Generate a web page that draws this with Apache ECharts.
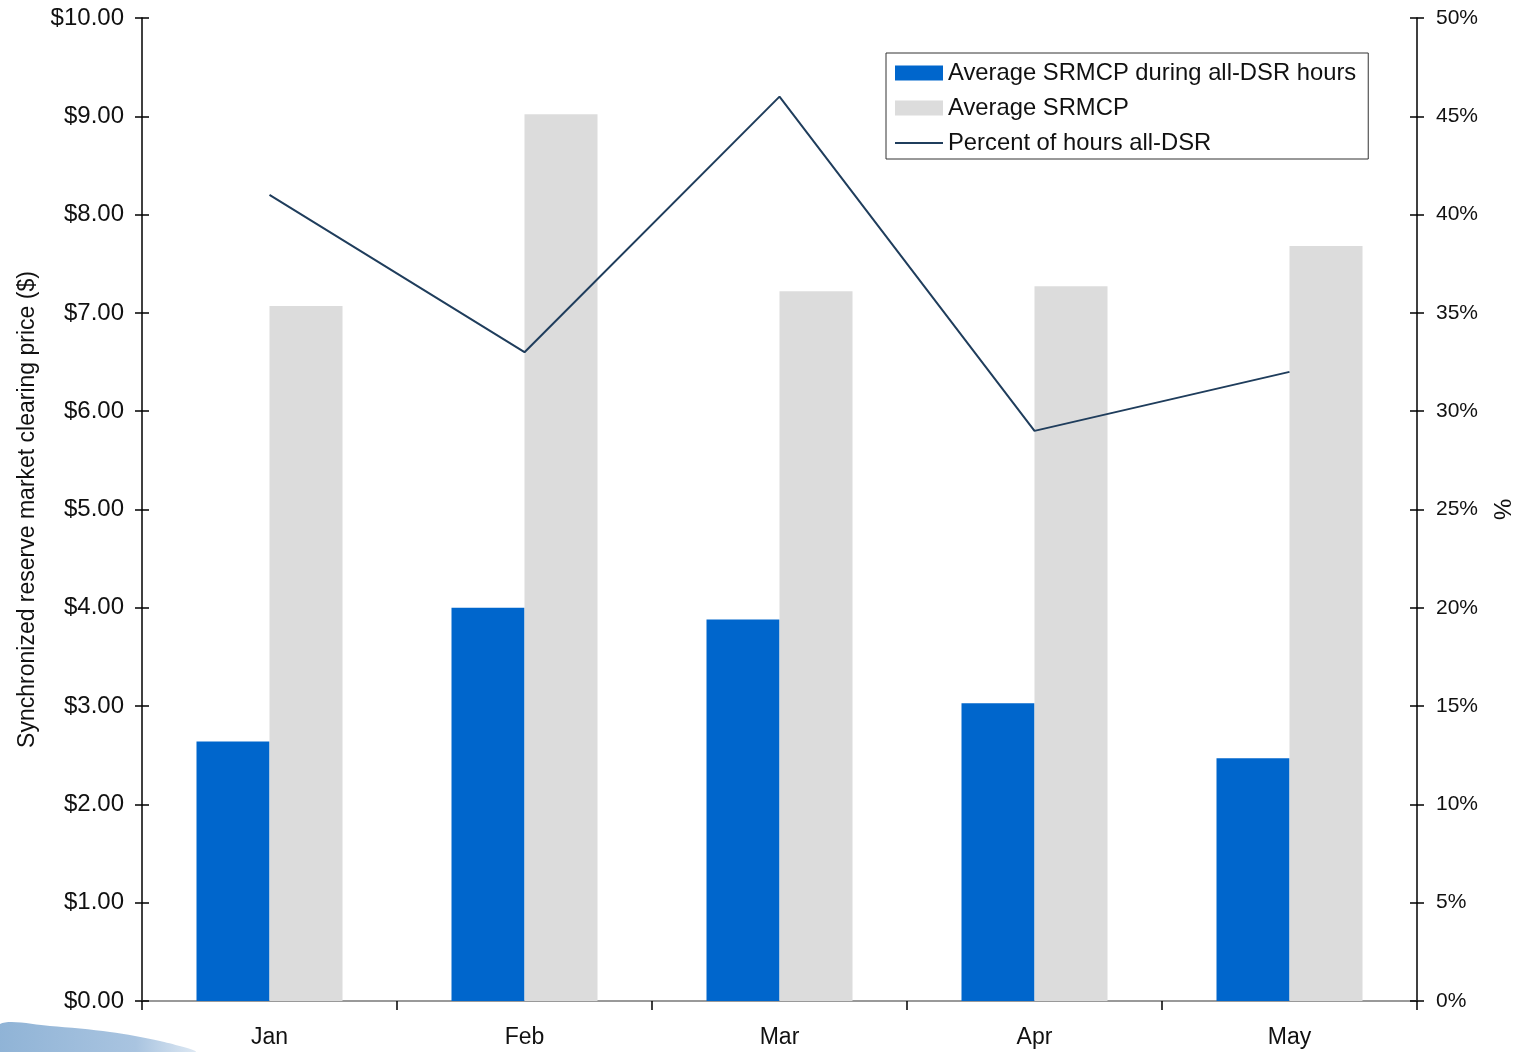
<!DOCTYPE html>
<html><head><meta charset="utf-8">
<script src="https://cdn.jsdelivr.net/npm/echarts@6/dist/echarts.min.js"></script>
<style>html,body{margin:0;padding:0;background:#fff}#c{width:1514px;height:1052px}</style>
</head><body><div id="c"></div>
<script>
const categories = ['Jan','Feb','Mar','Apr','May'];
const avgDsrHours = [2.64, 4.00, 3.88, 3.03, 2.47];
const avgSrmcp = [7.07, 9.02, 7.22, 7.27, 7.68];
const pctAllDsr = [41, 33, 46, 29, 32];

const chart = echarts.init(document.getElementById('c'));
const sans = 'Arial, "Liberation Sans", sans-serif';
chart.setOption({
  animation: false,
  backgroundColor: '#fff',
  grid: {left: 142, right: 97, top: 18, bottom: 51, outerBoundsMode: 'none', containLabel: false},
  legend: {
    orient: 'vertical', left: 886, top: 53,
    padding: [8, 12, 4, 8],
    borderColor: '#333', borderWidth: 1,
    itemWidth: 48, itemHeight: 15, itemGap: 11,
    textStyle: {fontFamily: sans, fontSize: 23.8, color: '#111'},
    data: [
      {name: 'Average SRMCP during all-DSR hours', icon: 'rect'},
      {name: 'Average SRMCP', icon: 'rect'},
      {name: 'Percent of hours all-DSR', itemStyle: {opacity: 0}}
    ]
  },
  graphic: [{
    type: 'polygon', silent: true, z: -1,
    shape: {points: [[0,1024],[50,1026],[110,1032],[160,1041],[195,1052],[0,1052]], smooth: 0.3},
    style: {fill: new echarts.graphic.LinearGradient(0,0,1,0,[{offset:0,color:'#8fb3d6'},{offset:0.7,color:'#a9c4e0'},{offset:1,color:'#dde8f3'}])}
  }],
  xAxis: [{
    type: 'category', data: categories,
    axisLine: {lineStyle: {color: '#000', width: 1.5}},
    axisTick: {show: true, length: 9, lineStyle: {color: '#000', width: 1.5}},
    axisLabel: {fontFamily: sans, fontSize: 23, color: '#111', margin: 25}
  }, {
    type: 'category', data: categories, position: 'top',
    axisLine: {lineStyle: {color: '#999', width: 2}},
    axisTick: {show: false}, axisLabel: {show: false}
  }],
  yAxis: [{
    type: 'value', min: 0, max: 10, interval: 1,
    name: 'Synchronized reserve market clearing price ($)',
    nameLocation: 'middle', nameGap: 103,
    nameTextStyle: {fontFamily: sans, fontSize: 23, color: '#111'},
    axisLine: {show: true, lineStyle: {color: '#000', width: 1.5}},
    axisTick: {show: true, length: 7, lineStyle: {color: '#000', width: 1.5}},
    axisLabel: {fontFamily: sans, fontSize: 24, color: '#111', margin: 18,
      formatter: v => '$' + v.toFixed(2)},
    splitLine: {show: false}
  }, {
    type: 'value', min: 0, max: 50, interval: 5, position: 'right',
    name: '%', nameLocation: 'middle', nameGap: 69, nameRotate: -90,
    nameTextStyle: {fontFamily: sans, fontSize: 24, color: '#111'},
    axisLine: {show: true, lineStyle: {color: '#000', width: 1.5}},
    axisTick: {show: true, length: 7, lineStyle: {color: '#000', width: 1.5}},
    axisLabel: {fontFamily: sans, fontSize: 21, color: '#111', margin: 19,
      formatter: v => v + '%'},
    splitLine: {show: false}
  }, {
    type: 'value', min: 0, max: 10, interval: 1, position: 'left',
    axisLine: {show: false}, axisLabel: {show: false}, splitLine: {show: false},
    axisTick: {show: true, inside: true, length: 7, lineStyle: {color: '#000', width: 1.5}}
  }, {
    type: 'value', min: 0, max: 50, interval: 5, position: 'right',
    axisLine: {show: false}, axisLabel: {show: false}, splitLine: {show: false},
    axisTick: {show: true, inside: true, length: 7, lineStyle: {color: '#000', width: 1.5}}
  }],
  series: [{
    name: 'Average SRMCP during all-DSR hours', type: 'bar', data: avgDsrHours,
    barWidth: 73, barGap: '0%', itemStyle: {color: '#0066cc'}
  }, {
    name: 'Average SRMCP', type: 'bar', data: avgSrmcp,
    barWidth: 73, barGap: '0%', itemStyle: {color: '#dcdcdc'}
  }, {
    name: 'Percent of hours all-DSR', type: 'line', yAxisIndex: 1, data: pctAllDsr,
    symbol: 'none', lineStyle: {color: '#1f3d5c', width: 2}, itemStyle: {color: '#1f3d5c'}
  }]
});
</script></body></html>
